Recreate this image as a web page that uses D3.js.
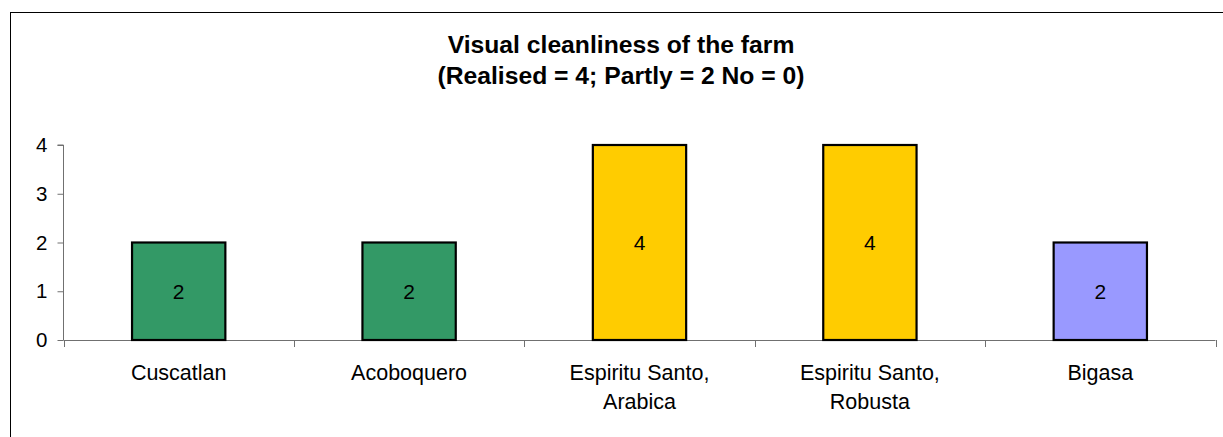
<!DOCTYPE html>
<html>
<head>
<meta charset="utf-8">
<script src="https://cdn.jsdelivr.net/npm/d3@7"></script>
<style>
  html, body { margin: 0; padding: 0; background: #fff; }
  svg { display: block; font-family: Arial, "Liberation Sans", sans-serif; }
</style>
</head>
<body>
<svg id="chart" width="1223" height="437"></svg>
<script>
const categories = [["Cuscatlan"], ["Acoboquero"], ["Espiritu Santo,", "Arabica"], ["Espiritu Santo,", "Robusta"], ["Bigasa"]];
const values = [2, 2, 4, 4, 2];
const barColors = ["#339966", "#339966", "#FFCC00", "#FFCC00", "#9999FF"];
const yTicks = [0, 1, 2, 3, 4];
const titleLines = ["Visual cleanliness of the farm", "(Realised = 4; Partly = 2 No = 0)"];

(function () {
const svg = d3.select("#chart");
const W = 1223, H = 437;
const FONT = "Arial, 'Liberation Sans', sans-serif";

// outer frame
svg.append("rect")
  .attr("x", 10.5).attr("y", 12.5)
  .attr("width", W + 10).attr("height", H + 10)
  .attr("fill", "#fff").attr("stroke", "#000").attr("stroke-width", 1);

// title
const title = svg.append("text")
  .attr("text-anchor", "middle")
  .attr("font-weight", "bold")
  .attr("font-size", "24.7px")
  .attr("fill", "#000");
titleLines.forEach((t, i) => {
  title.append("tspan").attr("x", 621).attr("y", 53 + i * 31).text(t);
});

const pLeft = 63.5, pRight = 1215.5, pTop = 145, pBottom = 340;
const x = d3.scaleBand().domain(d3.range(values.length)).range([pLeft, pRight]).padding(0);
const y = d3.scaleLinear().domain([0, 4]).range([pBottom, pTop]);

// y axis
const yAxis = d3.axisLeft(y).tickValues(yTicks).tickSize(6).tickPadding(10).tickFormat(d3.format("d"));
const gy = svg.append("g").attr("transform", `translate(${pLeft},0)`).call(yAxis);
gy.attr("font-size", null).attr("font-family", null);
gy.select(".domain").attr("stroke", "#707070").attr("d", `M-6,${y(4)}H0V${pBottom}`);
gy.selectAll(".tick line").attr("stroke", "#707070");
gy.selectAll(".tick text").style("font-size", "20.5px").style("font-family", FONT).attr("fill", "#000");

// x axis line and category ticks (at band boundaries)
const gx = svg.append("g");
gx.append("line").attr("x1", pLeft).attr("x2", pRight).attr("y1", pBottom + 0.5).attr("y2", pBottom + 0.5)
  .attr("stroke", "#707070");
const bounds = d3.range(values.length + 1).map(i => i < values.length ? x(i) : x(values.length - 1) + x.bandwidth());
gx.selectAll("line.ct").data(bounds).join("line").attr("class", "ct")
  .attr("x1", d => Math.round(d) + 0.5).attr("x2", d => Math.round(d) + 0.5)
  .attr("y1", pBottom).attr("y2", pBottom + 7).attr("stroke", "#707070");

// category labels
const bw = x.bandwidth();
categories.forEach((lines, i) => {
  const t = svg.append("text").attr("text-anchor", "middle").style("font-size", "21.5px").attr("fill", "#000");
  lines.forEach((ln, j) => {
    t.append("tspan").attr("x", x(i) + bw / 2).attr("y", 380 + j * 28.5).text(ln);
  });
});

// bars
const barW = bw * 0.405;
svg.selectAll("rect.bar").data(values).join("rect").attr("class", "bar")
  .attr("x", (d, i) => x(i) + (bw - barW) / 2)
  .attr("y", d => y(d))
  .attr("width", barW)
  .attr("height", d => y(0) - y(d))
  .attr("fill", (d, i) => barColors[i])
  .attr("stroke", "#000").attr("stroke-width", 2.2);

// data labels
svg.selectAll("text.dl").data(values).join("text").attr("class", "dl")
  .attr("x", (d, i) => x(i) + bw / 2)
  .attr("y", d => (y(d) + y(0)) / 2)
  .attr("dy", "0.36em")
  .attr("text-anchor", "middle")
  .style("font-size", "21px")
  .attr("fill", "#000")
  .text(d => d);
})();
</script>
</body>
</html>
